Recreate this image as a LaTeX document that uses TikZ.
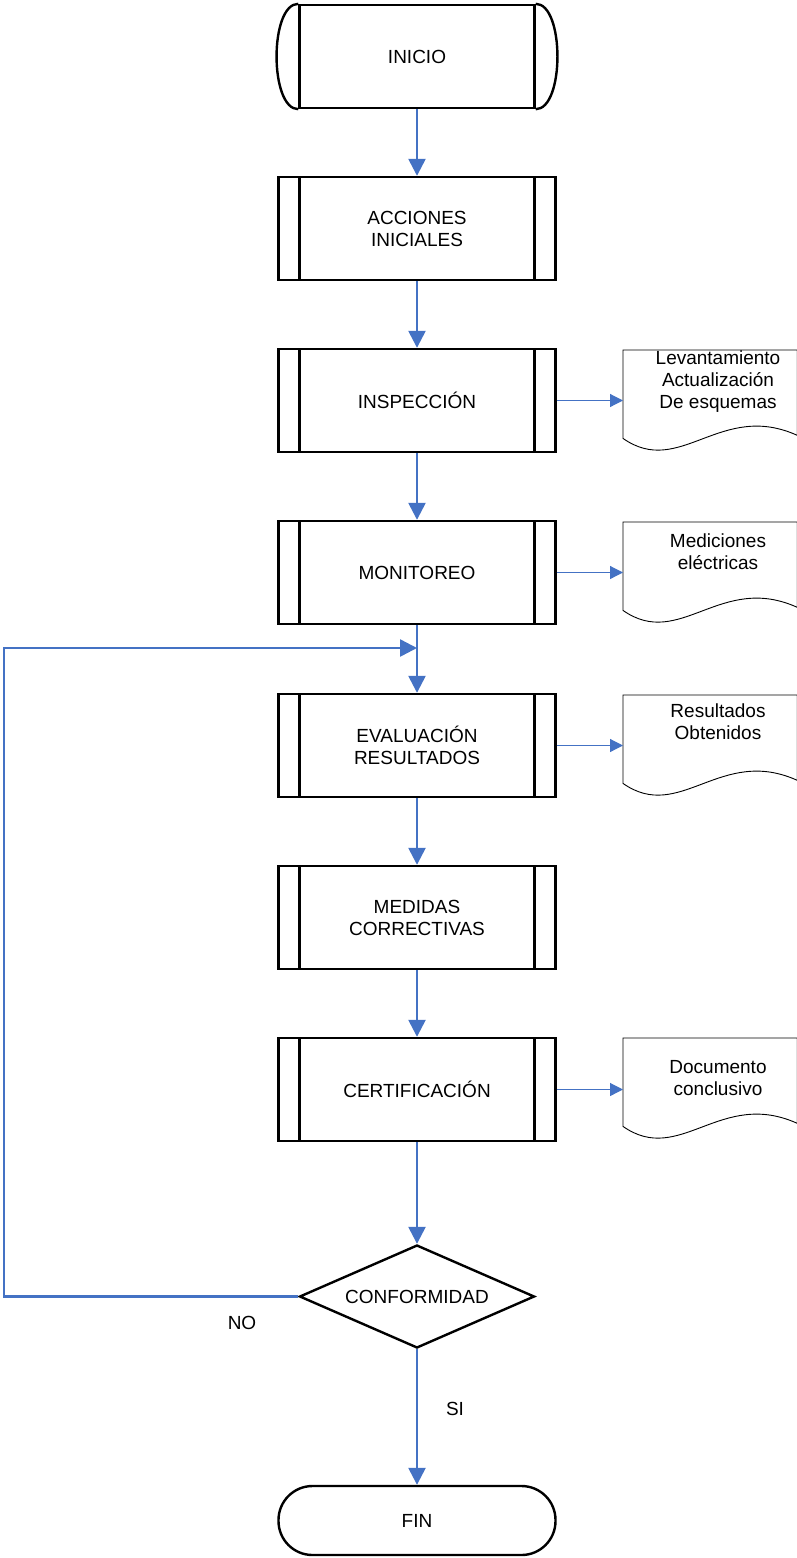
\documentclass[tikz,border=0pt]{standalone}
\usepackage{fontspec}
\setmainfont{Liberation Sans}
\usetikzlibrary{arrows.meta,shapes.geometric}
\definecolor{flowblue}{RGB}{68,114,196}
\newcommand\drawdoc[1]{\draw[docline] (#1.south west) -- (#1.north west) -- (#1.north east) -- ([yshift=3pt]#1.south east) .. controls +(-77,-35) and +(57,40) .. (#1.south west) -- cycle;}
\begin{document}
\begin{tikzpicture}[x=1pt,y=-1pt,
  every node/.style={font=\fontsize{19}{22}\selectfont, align=center, inner sep=0pt},
  thickline/.style={line width=2.4pt},
  proc/.style={draw, thickline, minimum width=277pt, minimum height=103pt,
    path picture={\draw[thickline]
      ([xshift=21pt]path picture bounding box.north west) -- ([xshift=21pt]path picture bounding box.south west)
      ([xshift=-21pt]path picture bounding box.north east) -- ([xshift=-21pt]path picture bounding box.south east);}},
  term/.style={draw, thickline, minimum width=235pt, minimum height=103pt},
  decision/.style={diamond, draw, thickline, minimum width=235pt, minimum height=103pt, aspect=2.28},
  finbox/.style={draw, thickline, rounded corners=34pt, minimum width=277pt, minimum height=69pt},
  docbox/.style={minimum width=174pt, minimum height=88pt, inner sep=0pt, anchor=north west},
  docline/.style={draw=black, line width=0.9pt, fill=white},
  flow/.style={draw=flowblue, line width=2.5pt, -{Triangle[length=17pt,width=17pt]}},
  side/.style={draw=flowblue, line width=1.2pt, -{Triangle[length=13pt,width=13pt]}}
]
\useasboundingbox (0,0) rectangle (797,1558);

% start terminator
\node[term] (inicio) at (417,56.5) {INICIO};
\draw[thickline] (inicio.north west) .. controls +(-29,0) and +(-29,0) .. (inicio.south west);
\draw[thickline] (inicio.north east) .. controls +(29,0) and +(29,0) .. (inicio.south east);

% process boxes
\node[proc] (acc) at (417,228.5) {ACCIONES\\INICIALES};
\node[proc] (insp) at (417,400.5) {INSPECCIÓN};
\node[proc] (mon) at (417,572.5) {MONITOREO};
\node[proc] (eval) at (417,745.5) {EVALUACIÓN\\RESULTADOS};
\node[proc] (med) at (417,917.5) {MEDIDAS\\CORRECTIVAS};
\node[proc] (cert) at (417,1089.5) {CERTIFICACIÓN};

% decision and end
\node[decision] (conf) at (417,1296.5) {CONFORMIDAD};
\node[finbox] (fin) at (417,1520.5) {FIN};

% documents
\node[docbox] (doc1) at (623,350) {};
\node[docbox] (doc2) at (623,522) {};
\node[docbox] (doc3) at (623,695) {};
\node[docbox] (doc4) at (623,1038) {};
\drawdoc{doc1}
\drawdoc{doc2}
\drawdoc{doc3}
\drawdoc{doc4}
\node (t1) at (718,382) {Levantamiento\\Actualización\\De esquemas};
\node (t2) at (718,552) {Mediciones\\eléctricas};
\node (t3) at (718,721.5) {Resultados\\Obtenidos};
\node (t4) at (718,1078.5) {Documento\\conclusivo};

% main flow
\draw[flow] (inicio.south) -- (acc.north);
\draw[flow] (acc.south) -- (insp.north);
\draw[flow] (insp.south) -- (mon.north);
\draw[flow] (mon.south) -- (eval.north);
\draw[flow] (eval.south) -- (med.north);
\draw[flow] (med.south) -- (cert.north);
\draw[flow] (cert.south) -- (conf.north);
\draw[flow] (conf.south) -- (fin.north);

% loop back
\coordinate (loopc) at (4,648);
\draw[flow] (conf.west) -| (loopc) -- (loopc -| eval.north);

% side arrows
\draw[side] (insp.east) -- (insp.east -| doc1.west);
\draw[side] (mon.east) -- (mon.east -| doc2.west);
\draw[side] (eval.east) -- (eval.east -| doc3.west);
\draw[side] (cert.east) -- (cert.east -| doc4.west);

% labels
\node (no) at (242,1323) {NO};
\node (si) at (455,1409) {SI};
\end{tikzpicture}
\end{document}
